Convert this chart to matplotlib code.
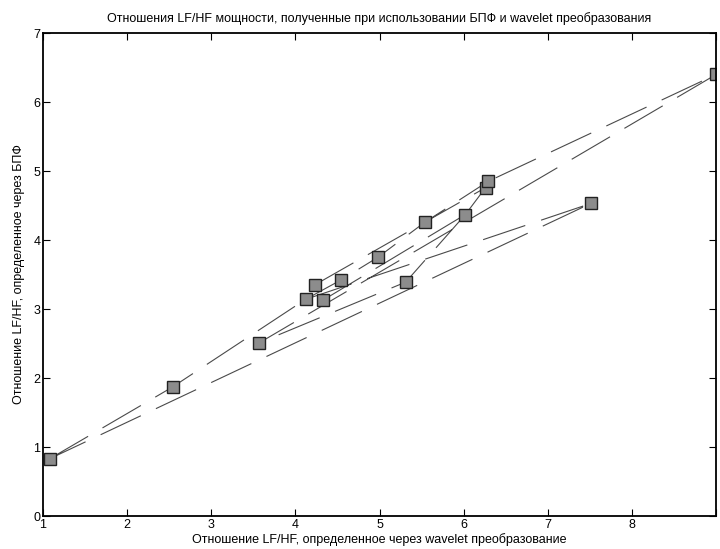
import numpy as np
import matplotlib
matplotlib.use("Agg")
import matplotlib.pyplot as plt

plt.rcParams['font.family'] = ['Liberation Sans', 'DejaVu Sans']
plt.rcParams['lines.scale_dashes'] = False

# === данные: отношения LF/HF (wavelet -> x, БПФ -> y) ===
wavelet_ratio = [1.08, 2.54, 3.57, 4.12, 4.23, 4.33, 4.54, 4.98, 5.31, 5.54, 6.02, 6.26, 6.29, 7.51, 9.00]
fft_ratio = [0.83, 1.87, 2.51, 3.14, 3.35, 3.13, 3.42, 3.75, 3.39, 4.26, 4.37, 4.76, 4.85, 4.53, 6.40]

# порядок соединения точек штриховой линией (None = разрыв)
line_order = [0, 1, 3, 13, 0, None,
              10, 8, 2, 14, 12, None,
              10, 11, None,
              3, 6, 7, 9, 12, None,
              4, 11, None,
              5, 10]

x_ticks = [1, 2, 3, 4, 5, 6, 7, 8, 9]
x_tick_labels = ['1', '2', '3', '4', '5', '6', '7', '8', '']
y_ticks = [0, 1, 2, 3, 4, 5, 6, 7]

title = 'Отношения LF/HF мощности, полученные при использовании БПФ и wavelet преобразования'
xlabel = 'Отношение LF/HF, определенное через wavelet преобразование'
ylabel = 'Отношение LF/HF, определенное через БПФ'

# путь линии
wx = np.array(wavelet_ratio)
fy = np.array(fft_ratio)
px = [np.nan if i is None else wx[i] for i in line_order]
py = [np.nan if i is None else fy[i] for i in line_order]

fig = plt.figure(figsize=(7.2, 5.49), dpi=100)
ax = fig.add_axes([0.0597, 0.0601, 0.935, 0.8797])

ax.plot(px, py, color='#4a4a4a', linewidth=0.8, dashes=(32, 12))
ax.plot(wx, fy, linestyle='none', marker='s', markersize=8.5,
        markerfacecolor='#8c8c8c', markeredgecolor='#222222', markeredgewidth=1.0,
        clip_on=True)

ax.set_xlim(1, 9)
ax.set_ylim(0, 7)
ax.set_xticks(x_ticks)
ax.set_xticklabels(x_tick_labels)
ax.set_yticks(y_ticks)
ax.tick_params(direction='in', length=5, width=0.8, top=True, right=True,
               labelsize=9, pad=2)
for s in ax.spines.values():
    s.set_linewidth(1.3)

ax.set_title(title, fontsize=9, pad=8)
ax.set_xlabel(xlabel, fontsize=9, labelpad=2)
ax.set_ylabel(ylabel, fontsize=9, labelpad=6)

fig.savefig('out.png', dpi=100)
